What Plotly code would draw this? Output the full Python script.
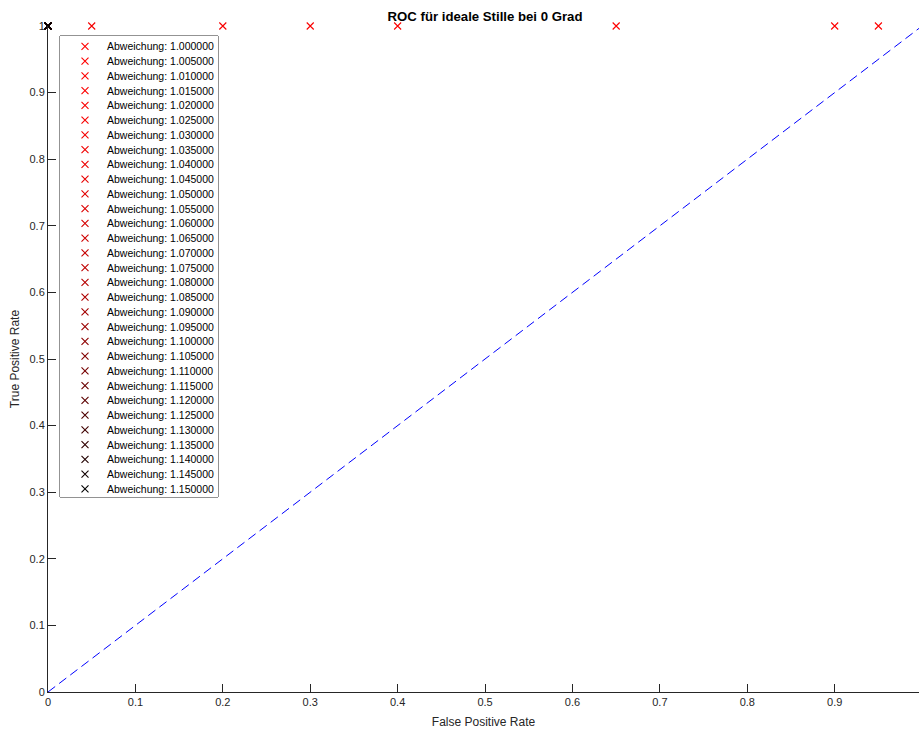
import plotly.graph_objects as go

# Deviation thresholds (one ROC point each)
abweichung = [
    "1.000000", "1.005000", "1.010000", "1.015000", "1.020000", "1.025000",
    "1.030000", "1.035000", "1.040000", "1.045000", "1.050000", "1.055000",
    "1.060000", "1.065000", "1.070000", "1.075000", "1.080000", "1.085000",
    "1.090000", "1.095000", "1.100000", "1.105000", "1.110000", "1.115000",
    "1.120000", "1.125000", "1.130000", "1.135000", "1.140000", "1.145000",
    "1.150000",
]
fpr = [0.95, 0.90, 0.65, 0.40, 0.30, 0.20, 0.05] + [0.0] * 24
tpr = [1.0] * 31

# Chance diagonal
diag_x = [0.0, 1.0]
diag_y = [0.0, 1.0]

x_ticks = [0, 0.1, 0.2, 0.3, 0.4, 0.5, 0.6, 0.7, 0.8, 0.9, 1]
y_ticks = [0, 0.1, 0.2, 0.3, 0.4, 0.5, 0.6, 0.7, 0.8, 0.9, 1]

W, H = 919, 731
L, R, T, B = 48, 0, 26, 39
PW, PH = W - L - R, H - T - B
FONT = "Liberation Sans, Arial, Helvetica, sans-serif"
AXC = "#262626"

n = len(abweichung)


def colour(i):
    f = 1 - (i / (n - 1)) ** 2
    return f"rgb({round(255 * f)},0,0)"


colours = [colour(i) for i in range(n)]

fig = go.Figure()

for i in range(n):
    fig.add_trace(go.Scatter(
        x=[fpr[i]], y=[tpr[i]], mode="markers", name="Abweichung: " + abweichung[i],
        marker=dict(symbol="x-thin", size=7, line=dict(width=1.1, color=colours[i]),
                    color=colours[i]),
        cliponaxis=False, showlegend=False,
    ))

fig.add_trace(go.Scatter(
    x=diag_x, y=diag_y, mode="lines",
    line=dict(color="rgb(0,0,255)", width=1, dash="9px,5px"),
    showlegend=False, cliponaxis=False,
))

# Legend drawn on its own small axes pair
def px_x(p):
    return (p - L) / PW


def px_y(p):
    return (H - B - p) / PH


bx0, bx1, by0, by1 = 60, 218, 36, 497
leg_idx = list(range(n))
fig.add_trace(go.Scatter(
    x=[25] * n, y=leg_idx, mode="markers", xaxis="x2", yaxis="y2",
    marker=dict(symbol="x-thin", size=7, line=dict(width=1.1, color=colours),
                color=colours),
    showlegend=False, hoverinfo="skip",
))

annotations = []
for i in range(n):
    annotations.append(dict(
        x=45, y=i, xref="x2", yref="y2", xanchor="left", yanchor="middle",
        text="Abweichung: " + abweichung[i], showarrow=False,
        font=dict(family=FONT, size=10.5, color="#000000"),
    ))

fig.add_shape(type="rect", xref="x2 domain", yref="y2 domain", x0=0, x1=1, y0=0, y1=1,
              line=dict(color=AXC, width=1), fillcolor="white", layer="below")

fig.update_layout(
    width=W, height=H,
    margin=dict(l=L, r=R, t=T, b=B),
    paper_bgcolor="white", plot_bgcolor="white",
    font=dict(family=FONT, color=AXC, size=11),
    title=dict(text="<b>ROC für ideale Stille bei 0 Grad</b>", x=485 / W, xanchor="center",
               y=1 - 16 / H, yanchor="middle", yref="container",
               font=dict(family=FONT, size=13.2, color="#000000")),
    xaxis=dict(range=[0, PW / 874.1], tickvals=x_ticks, ticktext=[f"{v:g}" for v in x_ticks],
               ticks="inside", ticklen=8, tickcolor=AXC, showline=True, linecolor=AXC,
               linewidth=1, showgrid=False, zeroline=False,
               title=dict(text="False Positive Rate", standoff=10,
                          font=dict(size=12, color=AXC)),
               tickfont=dict(size=11, color=AXC)),
    yaxis=dict(range=[0, 1], tickvals=y_ticks, ticktext=[f"{v:g}" for v in y_ticks],
               ticks="inside", ticklen=8, tickcolor=AXC, showline=True, linecolor=AXC,
               linewidth=1, showgrid=False, zeroline=False,
               title=dict(text="True Positive Rate", standoff=7,
                          font=dict(size=12, color=AXC)),
               tickfont=dict(size=11, color=AXC)),
    xaxis2=dict(domain=[px_x(bx0), px_x(bx1)], range=[0, bx1 - bx0], anchor="y2",
                visible=False, fixedrange=True),
    yaxis2=dict(domain=[px_y(by1), px_y(by0)], range=[30.55, -0.71], anchor="x2",
                visible=False, fixedrange=True),
    annotations=annotations,
    showlegend=False,
)

fig.write_html("out.html")
